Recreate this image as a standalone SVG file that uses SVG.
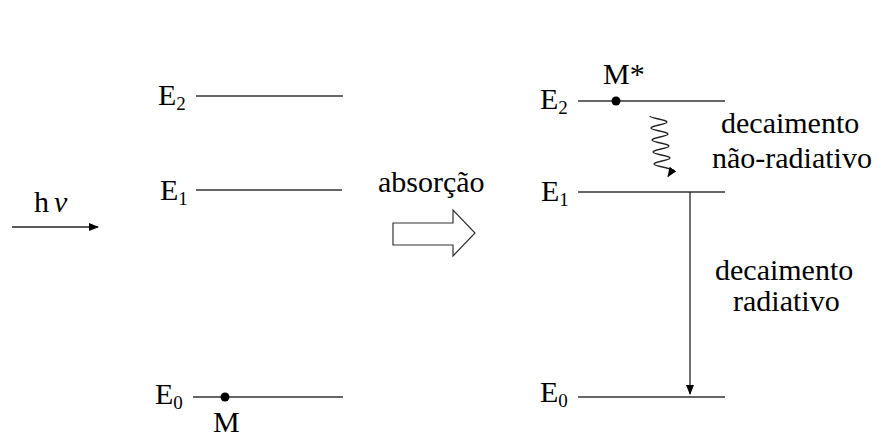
<svg xmlns="http://www.w3.org/2000/svg" width="879" height="437" viewBox="0 0 879 437">
<style>
text{font-family:'Liberation Serif','Times New Roman','DejaVu Serif','Noto Serif',serif;fill:#000;font-size:30px}
.sub{font-size:19px}
.lvl{stroke:#333;stroke-width:1.4;fill:none}
.ln{stroke:#222;stroke-width:1.3;fill:none}
</style>
<defs>
<marker id="ah" markerWidth="10" markerHeight="8" refX="9" refY="4" orient="auto" markerUnits="userSpaceOnUse">
<path d="M0,0 L10,4 L0,8 Z" fill="#000"/>
</marker>
</defs>
<rect width="879" height="437" fill="#fff"/>
<g font-family="Liberation Serif, Times New Roman, serif">
<g id="photon">
<text x="34" y="212">h<tspan dx="5" font-style="italic">ν</tspan></text>
</g>
<g id="left-E2">
<text x="158" y="105">E<tspan class="sub" dy="5">2</tspan></text>
<line class="lvl" x1="196" y1="96" x2="343" y2="96"/>
</g>
<g id="left-E1">
<text x="160" y="200">E<tspan class="sub" dy="5">1</tspan></text>
<line class="lvl" x1="196" y1="190" x2="342" y2="190"/>
</g>
<g id="left-E0">
<text x="155" y="404">E<tspan class="sub" dy="5">0</tspan></text>
<line class="lvl" x1="193" y1="397" x2="343" y2="397"/>
<circle cx="225" cy="397" r="4.5" fill="#000"/>
<text x="213" y="432">M</text>
</g>
<g id="absorcao">
<text x="378" y="192">absorção</text>
<polygon points="393,223 453,223 453,210 475,233 453,256 453,245 393,245" fill="#fff" stroke="#333" stroke-width="1.2"/>
</g>
<g id="right-E2">
<text x="540" y="109">E<tspan class="sub" dy="5">2</tspan></text>
<line class="lvl" x1="578" y1="101" x2="725" y2="101"/>
<circle cx="616" cy="101" r="4.5" fill="#000"/>
<text x="603" y="84">M*</text>
</g>
<g id="right-E1">
<text x="541" y="201">E<tspan class="sub" dy="5">1</tspan></text>
<line class="lvl" x1="578" y1="192" x2="725" y2="192"/>
</g>
<g id="right-E0">
<text x="540" y="402">E<tspan class="sub" dy="5">0</tspan></text>
<line class="lvl" x1="578" y1="397" x2="725" y2="397"/>
</g>
<g id="labels">
<text x="721" y="133">decaimento</text>
<text x="712" y="168">não-radiativo</text>
<text x="715" y="280">decaimento</text>
<text x="733" y="311">radiativo</text>
</g>
</g>
<g id="connectors">
<line class="ln" x1="12" y1="227" x2="98" y2="227" marker-end="url(#ah)"/>
<path class="ln" d="M650,116 C650,118.5 667,119.5 667,122 C667,124.5 651,125.5 651,128 C651,130.5 668,131.5 668,134 C668,136.5 652,137.5 652,140 C652,142.5 669,143.5 669,146 C669,148.5 653,149.5 653,152 C653,154.5 670,155.5 670,158 C670,160.5 654,161.5 654,164 C654,166.5 671,167.5 671,170 C671,172 670,173.5 668,176.5" marker-end="url(#ah)"/>
<line class="ln" x1="690" y1="192" x2="690" y2="394" marker-end="url(#ah)"/>
</g>
</svg>
